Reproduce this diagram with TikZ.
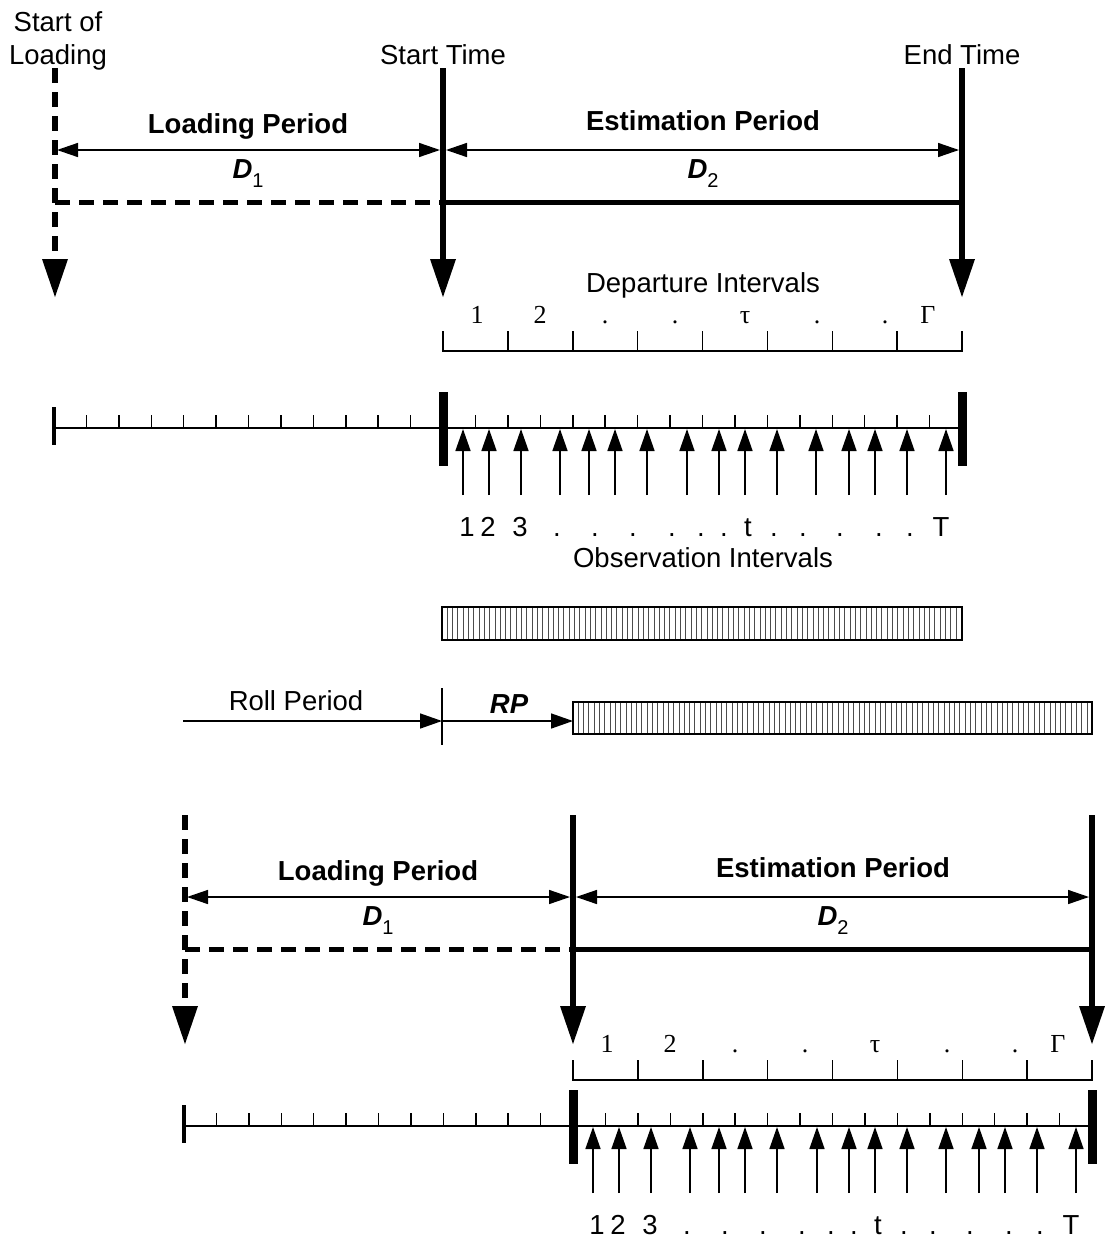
\documentclass[tikz,border=0pt]{standalone}
\usepackage{fontspec}
\setmainfont{Liberation Sans}
\newfontfamily\serifnum{Liberation Serif}
\usetikzlibrary{arrows.meta,positioning}

\newcommand\dsub[1]{\raisebox{-4.5pt}{\fontsize{10}{12}\selectfont #1}}

\begin{document}
\begin{tikzpicture}[
  x=0.5pt, y=-0.5pt,
  every node/.style={font=\fontsize{13.75}{16}\selectfont, inner sep=0pt, anchor=base},
  periodline/.style={line width=3.4pt, -{Triangle[length=19pt,width=13pt,line width=0pt]}},
  loaddash/.style={dash pattern=on 7.5pt off 4.5pt},
  spanline/.style={line width=2.5pt},
  dimarrow/.style={line width=0.75pt,
    {Triangle[length=10.5pt,width=7pt]}-{Triangle[length=10.5pt,width=7pt]}},
  bigbar/.style={line width=4.5pt},
  smalltick/.style={line width=0.75pt},
  thinarrow/.style={line width=0.75pt, -{Triangle[length=11pt,width=7.5pt]}},
  periodtext/.style={font=\bfseries\fontsize{13.75}{16}\selectfont},
  deplabel/.style={font=\serifnum\fontsize{13}{15}\selectfont},
  hatchbar/.style={draw, line width=0.6pt},
  hatch/.style={draw=black!70, line width=0.5pt}
]
\useasboundingbox (0,0) rectangle (1104,1248);

% labels of the first window
\node (startof) at (58,31) {Start of};
\node (loadlbl) at (58,64) {Loading};
\node (starttime) at (443,64) {Start Time};
\node (endtime) at (962,64) {End Time};
\node (depint) at (703,292) {Departure Intervals};
\node (obsint) at (703,567) {Observation Intervals};

% two windows, the second rolled by RP
\foreach \dx/\dp/\dd/\dt/\s in {0/0/0/0/a, 130/747/729/698/b} {
  \begin{scope}[shift={(\dx,\dp)}]
    \coordinate (ld\s) at (55,68);
    \coordinate (st\s) at (443,68);
    \coordinate (et\s) at (962,68);
    \draw[dimarrow] (57,150) -- (440,150);
    \draw[dimarrow] (446,150) -- (959,150);
    \draw[spanline, loaddash] (55,202) -- (443,202);
    \draw[spanline] (443,202) -- (962,202);
    \draw[periodline, loaddash] (ld\s) -- ++(0,229);
    \draw[periodline] (st\s) -- ++(0,229);
    \draw[periodline] (et\s) -- ++(0,229);
    \node[periodtext] (lp\s) at (248,133) {Loading Period};
    \node[periodtext] (ep\s) at (703,130) {Estimation Period};
    \node (done\s) at (248,178) {\textbf{\textit{D}}\dsub{1}};
    \node (dtwo\s) at (703,178) {\textbf{\textit{D}}\dsub{2}};
  \end{scope}
  % departure intervals
  \begin{scope}[shift={(\dx,\dd)}]
    \draw[smalltick] (443,331) -- (443,351) -- (962,351) -- (962,331);
    \foreach \k in {1,...,7}
      \draw[smalltick] (443+\k*64.875,331) -- ++(0,20);
    \foreach \lx/\lt [count=\k] in {477/1, 540/2, 605/., 675/., 745/τ, 817/., 885/., 928/Γ}
      \node[deplabel] (dep\s\k) at (\lx,323) {\lt};
  \end{scope}
  % observation intervals
  \begin{scope}[shift={(\dx,\dt)}]
    \draw[line width=1pt] (54,428) -- (962,428);
    \draw[line width=2.25pt] (54,407) -- (54,445);
    \foreach \k in {1,...,11}
      \draw[smalltick] (54+\k*32.42,415) -- ++(0,13);
    \foreach \k in {1,...,15}
      \draw[smalltick] (443+\k*32.44,415) -- ++(0,13);
    \draw[bigbar] (443,392) -- (443,466);
    \draw[bigbar] (962,392) -- (962,466);
    \foreach \ox in {463,489,521,560,589,615,647,687,719,745,777,816,849,875,907,946}
      \draw[thinarrow] (\ox,495) -- (\ox,429);
    \foreach \lx/\lt [count=\k] in {467/1, 488/2, 520/3, 557/., 595/., 633/., 672/., 701/., 724/.,
        748/t, 774/., 803/., 840/., 879/., 910/., 941/T}
      \node (obs\s\k) at (\lx,536) {\lt};
  \end{scope}
}

% estimation windows
\foreach \hx in {447.3,452.6,...,958}
  \draw[hatch] (\hx,607) -- (\hx,640);
\draw[hatchbar] (442,607) rectangle (962,640);
\foreach \hx in {578.3,583.6,...,1088}
  \draw[hatch] (\hx,702) -- (\hx,734);
\draw[hatchbar] (573,702) rectangle (1092,734);

% roll period
\coordinate (rpstart) at (183,721);
\coordinate (rpmid) at (442,721);
\coordinate (rpend) at (573,721);
\draw[smalltick] (442,688) -- (442,745);
\draw[thinarrow] (rpstart) -- (rpmid);
\draw[thinarrow] (rpmid) -- (rpend);
\node (roll) at (296,710) {Roll Period};
\node[font=\bfseries\itshape\fontsize{13.75}{16}\selectfont] (rp) at (509,713) {RP};

\end{tikzpicture}
\end{document}
